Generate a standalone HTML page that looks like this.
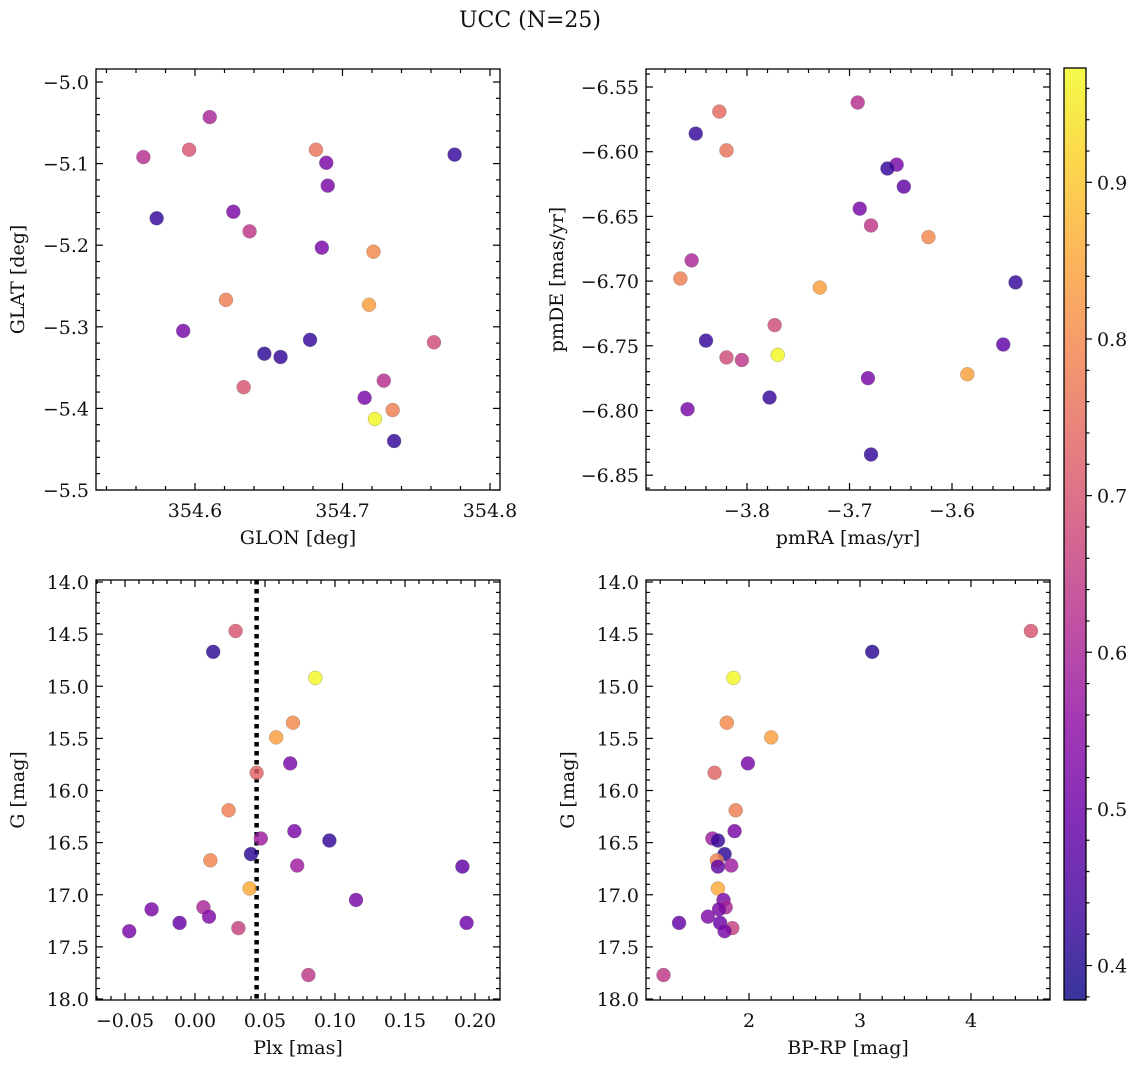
<!DOCTYPE html>
<html><head><meta charset="utf-8"><style>
body{margin:0;background:#fff;}
svg text{font-family:"DejaVu Serif","Liberation Serif",serif;fill:#111;}
</style></head><body>
<svg id="c" width="1136" height="1068" xmlns="http://www.w3.org/2000/svg">
<defs><linearGradient id="cbg" x1="0" y1="1" x2="0" y2="0"></linearGradient></defs>
<text x="530" y="27" font-size="22" text-anchor="middle">UCC (N=25)</text>
</svg>
<script>
// Panel 1: GLON / GLAT
const glon=[354.610,354.565,354.596,354.682,354.689,354.776,354.690,354.574,354.626,354.637,354.686,354.721,354.621,354.718,354.592,354.762,354.678,354.647,354.658,354.633,354.728,354.715,354.734,354.722,354.735];
const glat=[-5.043,-5.092,-5.083,-5.083,-5.099,-5.089,-5.127,-5.167,-5.159,-5.183,-5.203,-5.208,-5.267,-5.273,-5.305,-5.319,-5.316,-5.333,-5.337,-5.374,-5.366,-5.387,-5.402,-5.413,-5.440];
const prob1=[.60,.62,.70,.76,.52,.42,.52,.42,.52,.64,.52,.80,.78,.84,.52,.68,.42,.41,.42,.70,.62,.52,.78,.97,.42];
// Panel 2: pmRA / pmDE
const pmra=[-3.827,-3.850,-3.820,-3.692,-3.654,-3.663,-3.647,-3.690,-3.679,-3.623,-3.854,-3.865,-3.729,-3.538,-3.840,-3.773,-3.770,-3.550,-3.820,-3.805,-3.585,-3.682,-3.858,-3.778,-3.679];
const pmde=[-6.569,-6.586,-6.599,-6.562,-6.610,-6.613,-6.627,-6.644,-6.657,-6.666,-6.684,-6.698,-6.705,-6.701,-6.746,-6.734,-6.757,-6.749,-6.759,-6.761,-6.772,-6.775,-6.799,-6.790,-6.834];
const prob2=[.74,.42,.76,.62,.52,.42,.48,.52,.64,.80,.60,.78,.84,.42,.42,.68,.97,.48,.68,.64,.84,.52,.52,.42,.42];
// Panels 3 & 4: Plx, BP-RP vs G
const plx=[.029,.013,.086,.070,.058,.044,.068,.024,.047,.071,.096,.040,.011,.073,.191,.039,.115,.006,-.031,.010,-.011,.194,.031,-.047,.081];
const bprp=[4.54,3.11,1.86,1.80,2.20,1.69,1.99,1.88,1.67,1.87,1.72,1.78,1.71,1.84,1.72,1.72,1.77,1.79,1.73,1.63,1.37,1.74,1.85,1.78,1.23];
const gmag=[14.47,14.67,14.92,15.35,15.49,15.83,15.74,16.19,16.46,16.39,16.48,16.61,16.67,16.72,16.73,16.94,17.05,17.12,17.14,17.21,17.27,17.27,17.32,17.35,17.77];
const prob3=[.70,.41,.97,.80,.84,.73,.52,.78,.58,.52,.42,.41,.79,.58,.48,.86,.52,.60,.52,.53,.49,.50,.66,.52,.64];
const plxMedian=0.044;
const cbTicks=[0.4,0.5,0.6,0.7,0.8,0.9];
const vmin=0.378,vmax=0.973;

const NS="http://www.w3.org/2000/svg";
const svg=document.getElementById('c');
function mk(tag,attrs,parent){const e=document.createElementNS(NS,tag);for(const k in attrs)e.setAttribute(k,attrs[k]);(parent||svg).appendChild(e);return e;}
const stops=["#0d0887","#41049d","#6a00a8","#8f0da4","#b12a90","#cc4778","#e16462","#f2844b","#fca636","#fcce25","#f0f921"];
function hex(h){return[parseInt(h.substr(1,2),16),parseInt(h.substr(3,2),16),parseInt(h.substr(5,2),16)];}
function plasma(t){t=Math.max(0,Math.min(1,t));const f=t*10,i=Math.min(9,Math.floor(f)),r=f-i;const a=hex(stops[i]),b=hex(stops[i+1]);return `rgb(${a.map((v,k)=>Math.round(v+(b[k]-v)*r)).join(',')})`;}
function col(p){return plasma((p-vmin)/(vmax-vmin));}

function fmt(v,d){const s=Math.abs(v).toFixed(d);return (v<-1e-9?'\u2212':'')+s;}

function panel(o){
  const g=mk('g',{});
  
  
  const X=v=>o.x0+(v-o.xa)/(o.xb-o.xa)*(o.x1-o.x0);
  const Y=v=>o.y0+(v-o.ya)/(o.yb-o.ya)*(o.y1-o.y0);
  const tk=mk('g',{stroke:'#000','stroke-width':1.2},g);
  
  
  const lo=Math.min(o.xa,o.xb),hi=Math.max(o.xa,o.xb);
  for(let k=Math.ceil(lo/o.xmin-1e-6);k*o.xmin<=hi+1e-9;k++){const v=k*o.xmin;const px=X(v);if(px<o.x0-0.5||px>o.x1+0.5)continue;
    const maj=Math.abs(v/o.xmaj-Math.round(v/o.xmaj))<1e-6;const L=maj?7:4;
    mk('line',{x1:px,x2:px,y1:o.y1,y2:o.y1-L},tk);mk('line',{x1:px,x2:px,y1:o.y0,y2:o.y0+L},tk);}
  const ylo=Math.min(o.ya,o.yb),yhi=Math.max(o.ya,o.yb);
  for(let k=Math.ceil(ylo/o.ymin-1e-6);k*o.ymin<=yhi+1e-9;k++){const v=k*o.ymin;const py=Y(v);if(py<o.y0-0.5||py>o.y1+0.5)continue;
    const maj=Math.abs(v/o.ymaj-Math.round(v/o.ymaj))<1e-6;const L=maj?7:4;
    mk('line',{y1:py,y2:py,x1:o.x0,x2:o.x0+L},tk);mk('line',{y1:py,y2:py,x1:o.x1,x2:o.x1-L},tk);}
  o.xt.forEach(v=>{const t=mk('text',{x:X(v),y:o.y1+27,'font-size':19,'text-anchor':'middle'},g);t.textContent=fmt(v,o.xd);
    
    });
  o.yt.forEach(v=>{const t=mk('text',{x:o.x0-7,y:Y(v)+7,'font-size':19,'text-anchor':'end'},g);t.textContent=fmt(v,o.yd);
    
    });
  const xl=mk('text',{x:(o.x0+o.x1)/2,y:o.y1+54,'font-size':19,'text-anchor':'middle'},g);xl.textContent=o.xlab;
  
  
  const yl=mk('text',{x:0,y:0,'font-size':19,'text-anchor':'middle',transform:`translate(${o.ylx},${(o.y0+o.y1)/2}) rotate(-90)`},g);yl.textContent=o.ylab;
  
  
  if(o.extra)o.extra(g,X,Y);
  o.xs.forEach((v,i)=>{const c=mk('circle',{cx:X(v),cy:Y(o.ys[i]),r:7,fill:col(o.p[i]),'fill-opacity':0.82,stroke:'#777','stroke-width':0.5,'stroke-opacity':0.6},g);
    
    });
  const fr=mk('rect',{x:o.x0,y:o.y0,width:o.x1-o.x0,height:o.y1-o.y0,fill:'none',stroke:'#000','stroke-width':1.3},g);
  
  
}

panel({name:'glon-glat-panel',x0:96,x1:500,y0:69,y1:490,xa:354.6-99/1475,xb:354.6+305/1475,ya:-5.0+13/816,yb:-5.5,
  xmaj:0.1,xmin:0.02,ymaj:0.1,ymin:0.02,xt:[354.6,354.7,354.8],xd:1,yt:[-5.0,-5.1,-5.2,-5.3,-5.4,-5.5],yd:1,
  xlab:'GLON [deg]',ylab:'GLAT [deg]',ylx:24,xs:glon,ys:glat,p:prob1});
panel({name:'pm-panel',x0:646,x1:1050,y0:69,y1:490,xa:-3.8-101/1025,xb:-3.8+303/1025,ya:-6.55+18/1294,yb:-6.55-403/1294,
  xmaj:0.1,xmin:0.02,ymaj:0.05,ymin:0.01,xt:[-3.8,-3.7,-3.6],xd:1,yt:[-6.55,-6.60,-6.65,-6.70,-6.75,-6.80,-6.85],yd:2,
  xlab:'pmRA [mas/yr]',ylab:'pmDE [mas/yr]',ylx:563,xs:pmra,ys:pmde,p:prob2});
panel({name:'plx-g-panel',x0:96,x1:500,y0:580,y1:1000,xa:-99/1400,xb:305/1400,ya:14-2/104.25,yb:14+418/104.25,
  xmaj:0.05,xmin:0.01,ymaj:0.5,ymin:0.1,xt:[-0.05,0,0.05,0.10,0.15,0.20],xd:2,yt:[14,14.5,15,15.5,16,16.5,17,17.5,18],yd:1,
  xlab:'Plx [mas]',ylab:'G [mag]',ylx:24,xs:plx,ys:gmag,p:prob3,
  extra:(g,X,Y)=>{const l=mk('line',{x1:X(plxMedian),x2:X(plxMedian),y1:580,y2:1000,stroke:'#000','stroke-width':4.5,'stroke-dasharray':'4.5 4.5'},g);
    
    }});
panel({name:'cmd-panel',x0:646,x1:1050,y0:580,y1:1000,xa:2-103/111,xb:2+301/111,ya:14-2/104.25,yb:14+418/104.25,
  xmaj:1,xmin:0.2,ymaj:0.5,ymin:0.1,xt:[2,3,4],xd:0,yt:[14,14.5,15,15.5,16,16.5,17,17.5,18],yd:1,
  xlab:'BP-RP [mag]',ylab:'G [mag]',ylx:574,xs:bprp,ys:gmag,p:prob3});

const grad=document.getElementById('cbg');
for(let i=0;i<=20;i++){const t=i/20;mk('stop',{offset:t,'stop-color':plasma(t)},grad);}
const cb=mk('g',{});


const cy0=68,cy1=1000,cx0=1064,cx1=1086;
mk('rect',{x:cx0,y:cy0,width:cx1-cx0,height:cy1-cy0,fill:'url(#cbg)','fill-opacity':0.82},cb);
const CY=v=>cy1-(v-vmin)/(vmax-vmin)*(cy1-cy0);
for(let k=19;k<=48;k++){const v=k*0.02;const py=CY(v);if(py<cy0||py>cy1)continue;const maj=k%5==0;
  mk('line',{x1:cx1,x2:cx1+(maj?6:3.5),y1:py,y2:py,stroke:'#000','stroke-width':1.2},cb);}
cbTicks.forEach(v=>{const t=mk('text',{x:1097,y:CY(v)+7,'font-size':19},cb);t.textContent=v.toFixed(1);
  
  });
mk('rect',{x:cx0,y:cy0,width:cx1-cx0,height:cy1-cy0,fill:'none',stroke:'#000','stroke-width':1.3},cb);
</script>
</body></html>
